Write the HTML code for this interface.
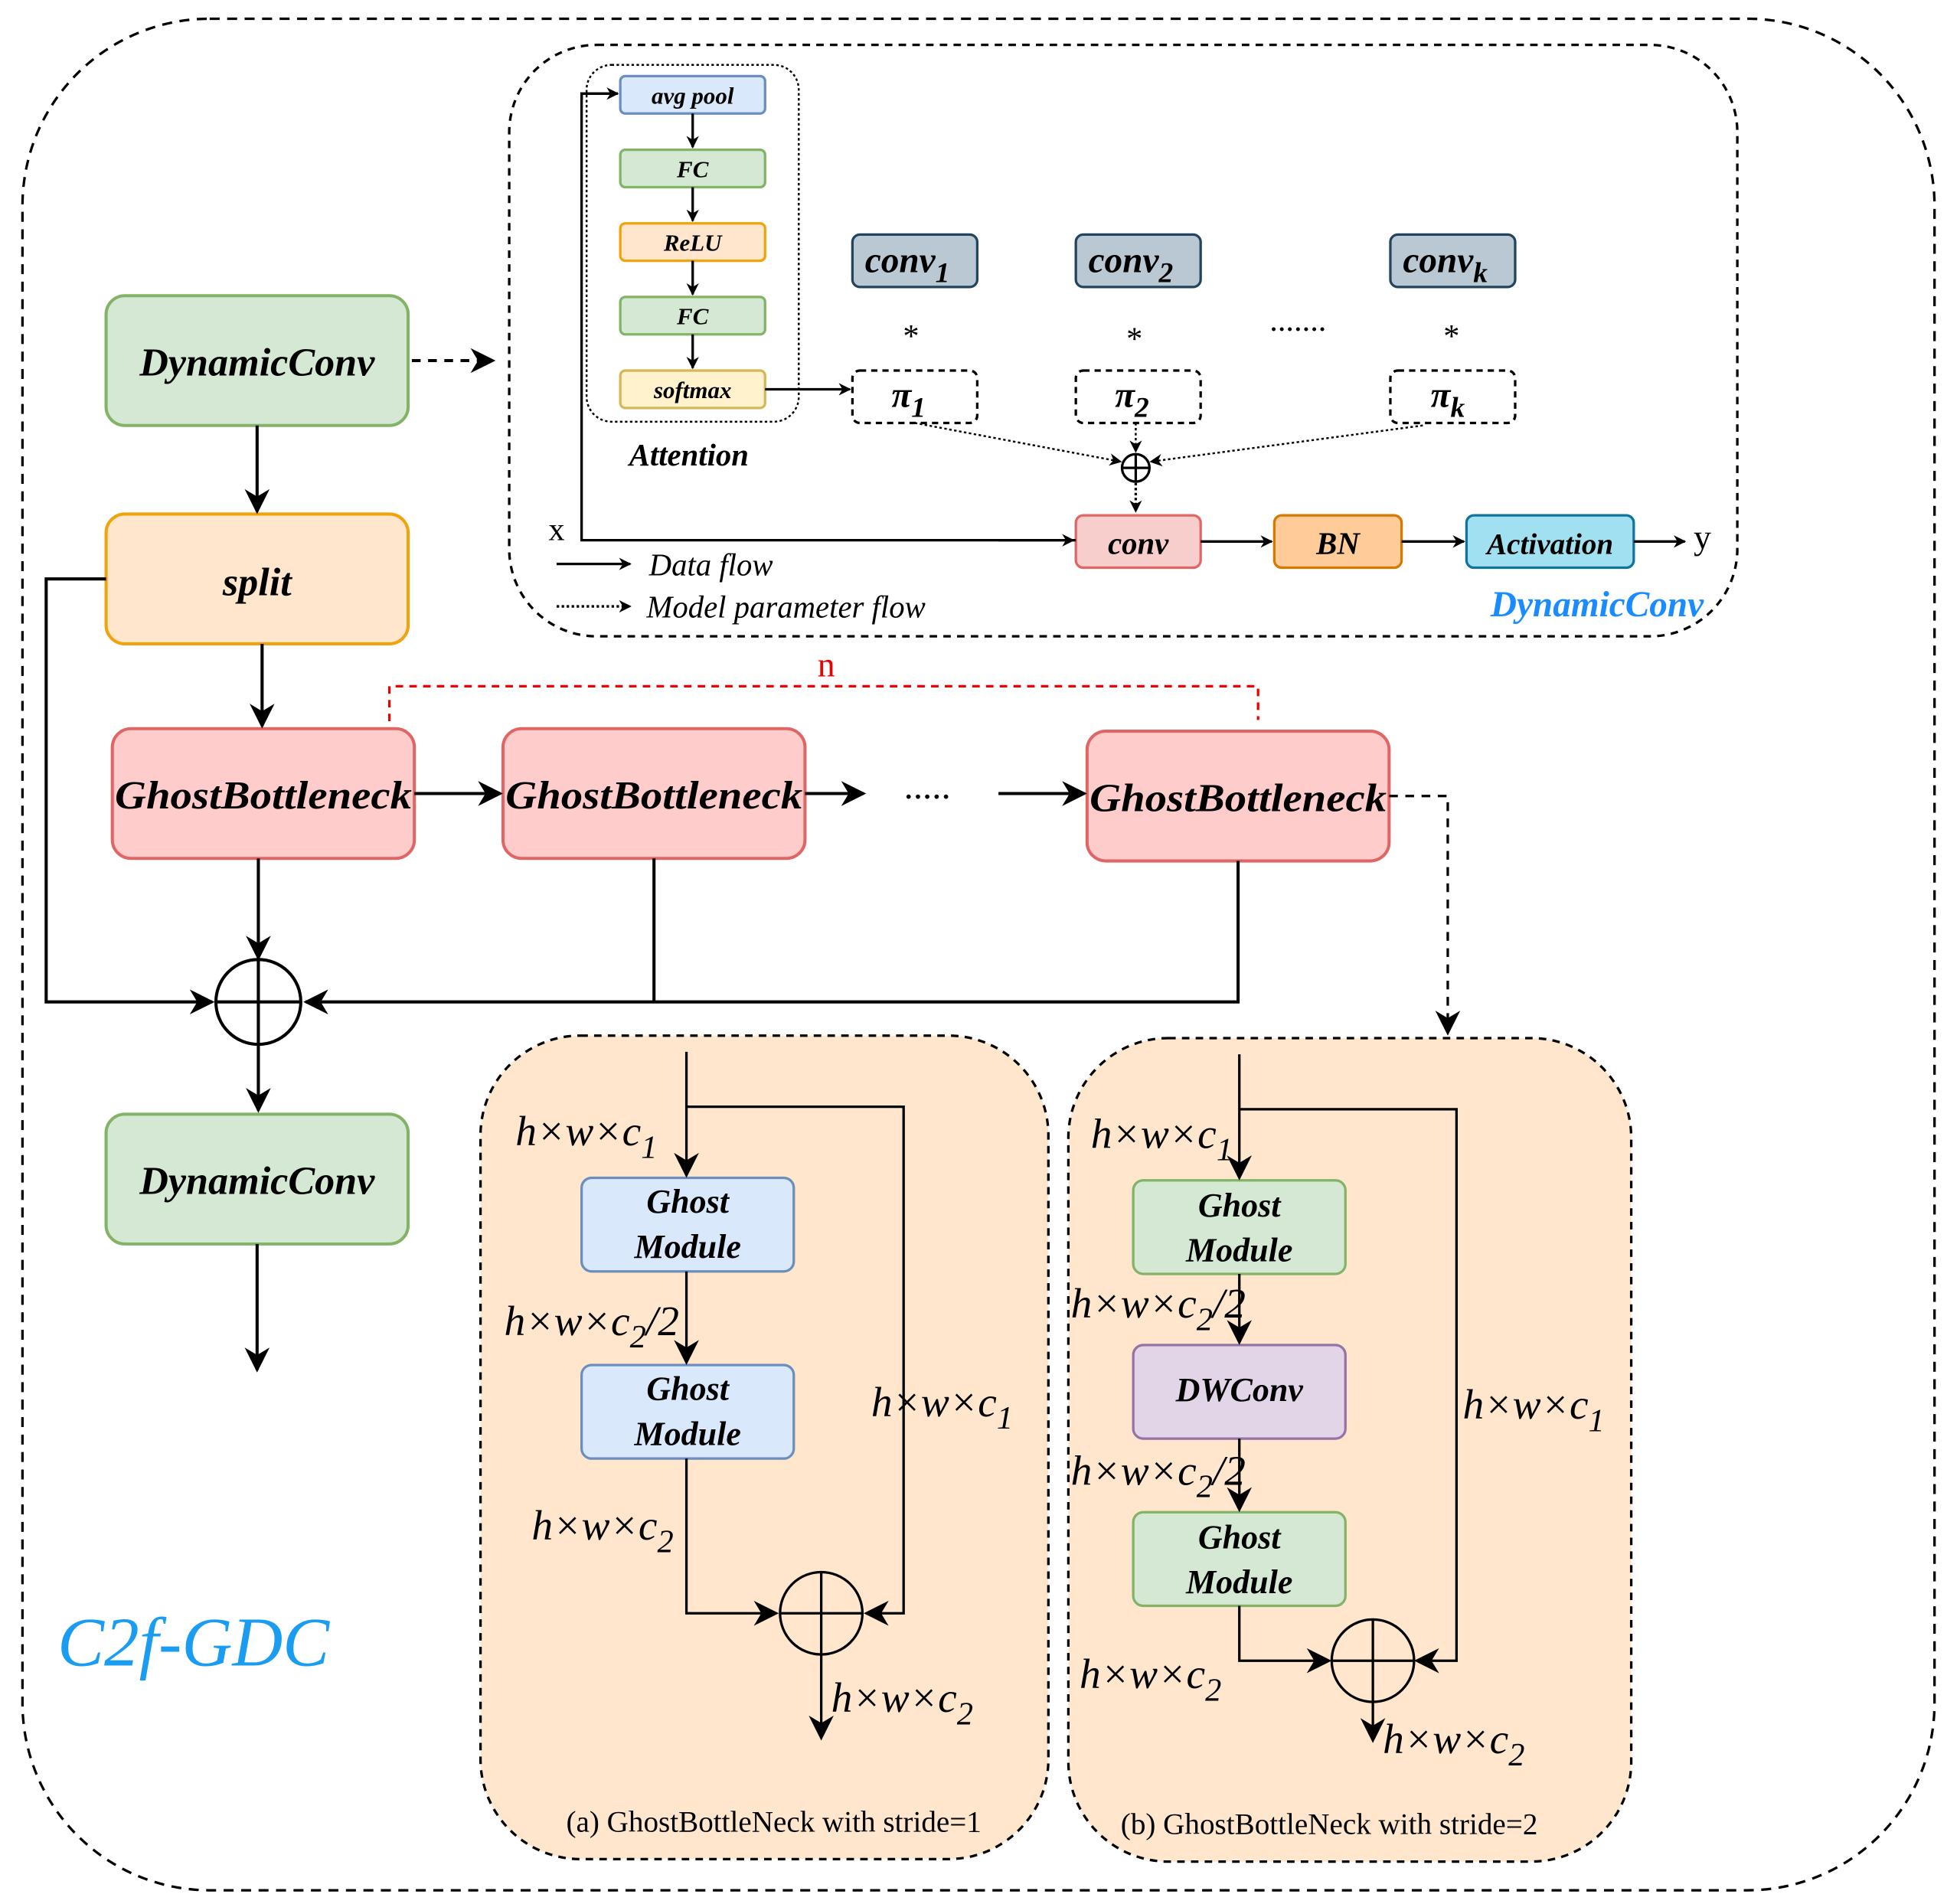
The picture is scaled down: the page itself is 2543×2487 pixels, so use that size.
<!DOCTYPE html>
<html><head><meta charset="utf-8"><style>
html,body{margin:0;padding:0;background:#fff}
svg{display:block}
text{font-family:"Liberation Serif","Times New Roman",serif}
.b{font-weight:bold;font-style:italic}
.lab{font-style:italic;font-size:34px}
</style></head><body>
<svg width="2543" height="2487" viewBox="0 0 1560 1526" preserveAspectRatio="none" xmlns="http://www.w3.org/2000/svg">
<defs>
<marker id="a" viewBox="0 0 10 10" refX="9" refY="5" markerWidth="10" markerHeight="10" orient="auto" markerUnits="userSpaceOnUse"><path d="M0,0 L10,5 L0,10 L3,5z" fill="#000"/></marker>
<marker id="A" viewBox="0 0 10 10" refX="9" refY="5" markerWidth="20" markerHeight="20" orient="auto" markerUnits="userSpaceOnUse"><path d="M0,0 L10,5 L0,10 L3,5z" fill="#000"/></marker>
</defs>
<g fill="none" stroke="#000">
<rect x="18" y="15" width="1532" height="1500" rx="150" stroke-width="2" stroke-dasharray="8,6"/>
<rect x="408" y="36" width="984" height="474" rx="70" stroke-width="2" stroke-dasharray="6,5"/>
<rect x="470" y="52" width="170" height="286" rx="20" stroke-width="1.5" stroke-dasharray="2,2"/>
<rect x="385" y="830" width="455" height="660" rx="80" fill="#ffe6cc" stroke-width="2" stroke-dasharray="6,5"/>
<rect x="856" y="832" width="451" height="660" rx="80" fill="#ffe6cc" stroke-width="2" stroke-dasharray="6,5"/>
</g>
<g stroke-width="2">
<rect x="497" y="61" width="116" height="30" rx="4" fill="#dae8fc" stroke="#6c8ebf"/>
<rect x="497" y="120" width="116" height="30" rx="4" fill="#d5e8d4" stroke="#82b366"/>
<rect x="497" y="179" width="116" height="30" rx="4" fill="#ffe6cc" stroke="#f0a30a"/>
<rect x="497" y="238" width="116" height="30" rx="4" fill="#d5e8d4" stroke="#82b366"/>
<rect x="497" y="297" width="116" height="30" rx="4" fill="#fff2cc" stroke="#d6b656"/>
<rect x="683" y="188" width="100" height="42" rx="6" fill="#bac8d3" stroke="#23445d"/>
<rect x="862" y="188" width="100" height="42" rx="6" fill="#bac8d3" stroke="#23445d"/>
<rect x="1114" y="188" width="100" height="42" rx="6" fill="#bac8d3" stroke="#23445d"/>
<rect x="683" y="297" width="100" height="42" rx="6" fill="#fff" stroke="#000" stroke-dasharray="5,4"/>
<rect x="862" y="297" width="100" height="42" rx="6" fill="#fff" stroke="#000" stroke-dasharray="5,4"/>
<rect x="1114" y="297" width="100" height="42" rx="6" fill="#fff" stroke="#000" stroke-dasharray="5,4"/>
<rect x="862" y="413" width="100" height="42" rx="6" fill="#f8cecc" stroke="#e06666"/>
<rect x="1021" y="413" width="102" height="42" rx="6" fill="#ffcc99" stroke="#d77800"/>
<rect x="1175" y="413" width="134" height="42" rx="6" fill="#a0e0f0" stroke="#10739e"/>
</g>
<g class="b" font-size="19" text-anchor="middle">
<text x="555" y="83">avg pool</text><text x="555" y="142">FC</text><text x="555" y="201">ReLU</text><text x="555" y="260">FC</text><text x="555" y="319">softmax</text>
</g>
<g class="b" font-size="29" text-anchor="middle">
<text x="727" y="218">conv<tspan font-size="23" dy="8">1</tspan></text>
<text x="906" y="218">conv<tspan font-size="23" dy="8">2</tspan></text>
<text x="1158" y="218">conv<tspan font-size="23" dy="8">k</tspan></text>
<text x="728" y="326">π<tspan font-size="23" dy="8">1</tspan></text>
<text x="907" y="326">π<tspan font-size="23" dy="8">2</tspan></text>
<text x="1160" y="326">π<tspan font-size="23" dy="8">k</tspan></text>
<text x="912" y="444" font-size="25">conv</text>
<text x="1072" y="444" font-size="25">BN</text>
<text x="1242" y="444" font-size="24">Activation</text>
</g>
<g font-size="26" text-anchor="middle"><text x="730" y="278">*</text><text x="909" y="280">*</text><text x="1163" y="278">*</text><text x="1040" y="265">.......</text></g>
<text x="552" y="373" class="b" font-size="25" text-anchor="middle">Attention</text>
<text x="446" y="433" font-size="26" text-anchor="middle">x</text>
<text x="1364" y="440" font-size="28" text-anchor="middle">y</text>
<text x="520" y="461" font-size="25" font-style="italic">Data flow</text>
<text x="518" y="495" font-size="25" font-style="italic">Model parameter flow</text>
<text x="1365" y="494" class="b" font-size="29" fill="#1a8cff" text-anchor="end">DynamicConv</text>
<g stroke="#000" stroke-width="2" fill="none" marker-end="url(#a)">
<path d="M555,91V118"/><path d="M555,150V177"/><path d="M555,209V236"/><path d="M555,268V295"/>
<path d="M613,312H681"/>
<path d="M862,433H466V75H495" marker-end="none"/>
<path d="M800,433H860"/>
<path d="M466,80V75H495"/>
<path d="M962,434H1019"/><path d="M1123,434H1173"/><path d="M1309,434H1350"/>
<path d="M446,452H505"/>
<path d="M446,486H505" stroke-dasharray="2,2"/>
<path d="M733,339L898,370" stroke-dasharray="2,2" stroke-width="1.5"/>
<path d="M1140,341L922,370" stroke-dasharray="2,2" stroke-width="1.5"/>
<path d="M910,339V362" stroke-dasharray="2,2" stroke-width="1.5"/>
<path d="M910,387V410" stroke-dasharray="2,2"/>
</g>
<g stroke="#000" stroke-width="2" fill="none"><circle cx="910" cy="375" r="11"/><path d="M899,375H921M910,364V386"/></g>
<g stroke-width="2.5">
<rect x="85" y="237" width="242" height="104" rx="15" fill="#d5e8d4" stroke="#82b366"/>
<rect x="85" y="412" width="242" height="104" rx="15" fill="#ffe6cc" stroke="#f0a30a"/>
<rect x="90" y="584" width="242" height="104" rx="15" fill="#ffcccc" stroke="#e06666"/>
<rect x="403" y="584" width="242" height="104" rx="15" fill="#ffcccc" stroke="#e06666"/>
<rect x="871" y="586" width="242" height="104" rx="15" fill="#ffcccc" stroke="#e06666"/>
<rect x="85" y="893" width="242" height="104" rx="15" fill="#d5e8d4" stroke="#82b366"/>
</g>
<g class="b" font-size="32" text-anchor="middle">
<text x="206" y="301">DynamicConv</text>
<text x="206" y="477">split</text>
<text x="211" y="648" textLength="238" lengthAdjust="spacingAndGlyphs">GhostBottleneck</text>
<text x="524" y="648" textLength="238" lengthAdjust="spacingAndGlyphs">GhostBottleneck</text>
<text x="992" y="650" textLength="238" lengthAdjust="spacingAndGlyphs">GhostBottleneck</text>
<text x="206" y="957">DynamicConv</text>
</g>
<text x="743" y="640" font-size="30" text-anchor="middle">.....</text>
<path d="M312,578V550H1008V577" fill="none" stroke="#e00" stroke-width="2" stroke-dasharray="6,5"/>
<text x="662" y="542" font-size="28" fill="#e00" text-anchor="middle">n</text>
<g stroke="#000" stroke-width="2.5" fill="none" marker-end="url(#A)">
<path d="M330,289H395" stroke-dasharray="7,6"/>
<path d="M1113,638H1160V828" stroke-dasharray="7,6" stroke-width="2"/>
<path d="M206,341V410"/><path d="M210,516V582"/><path d="M332,636H401"/><path d="M645,636H692"/><path d="M800,636H869"/><path d="M207,688V768"/><path d="M207,837V890"/><path d="M206,997V1098"/>
<path d="M85,464H37V803H170"/>
<path d="M524,688V803" marker-end="none"/>
<path d="M992,690V803H245"/>
</g>
<g stroke="#000" stroke-width="2.5" fill="none"><circle cx="207" cy="803" r="34"/><path d="M173,803H241M207,769V837"/></g>
<text x="155" y="1335" font-size="56" font-style="italic" fill="#1a9cf0" text-anchor="middle">C2f-GDC</text>
<g stroke-width="2">
<rect x="466" y="944" width="170" height="75" rx="8" fill="#dae8fc" stroke="#6c8ebf"/>
<rect x="466" y="1094" width="170" height="75" rx="8" fill="#dae8fc" stroke="#6c8ebf"/>
<rect x="908" y="946" width="170" height="75" rx="8" fill="#d5e8d4" stroke="#82b366"/>
<rect x="908" y="1078" width="170" height="75" rx="8" fill="#e1d5e7" stroke="#9673a6"/>
<rect x="908" y="1212" width="170" height="75" rx="8" fill="#d5e8d4" stroke="#82b366"/>
</g>
<g class="b" font-size="27" text-anchor="middle">
<text x="551" y="972">Ghost</text><text x="551" y="1008">Module</text>
<text x="551" y="1122">Ghost</text><text x="551" y="1158">Module</text>
<text x="993" y="975">Ghost</text><text x="993" y="1011">Module</text>
<text x="993" y="1123">DWConv</text>
<text x="993" y="1241">Ghost</text><text x="993" y="1277">Module</text>
</g>
<g stroke="#000" stroke-width="2" fill="none" marker-end="url(#A)">
<path d="M550,843V942"/><path d="M550,1019V1092"/><path d="M658,1326V1393"/>
<path d="M993,845V944"/><path d="M993,1021V1076"/><path d="M993,1153V1210"/><path d="M1100,1364V1395"/>
<path d="M550,887H724V1293H694"/><path d="M550,1169V1293H622"/>
<path d="M993,889H1167V1331H1135"/><path d="M993,1287V1331H1065"/>
</g>
<g stroke="#000" stroke-width="2" fill="none">
<circle cx="658" cy="1293" r="33"/><path d="M625,1293H691M658,1260V1326"/>
<circle cx="1100" cy="1331" r="33"/><path d="M1067,1331H1133M1100,1298V1364"/>
</g>
<g class="lab">
<text x="413" y="918">h×w×c<tspan font-size="26" dy="10">1</tspan></text>
<text x="404" y="1070">h×w×c<tspan font-size="26" dy="10">2</tspan><tspan dy="-10">/2</tspan></text>
<text x="426" y="1234">h×w×c<tspan font-size="26" dy="10">2</tspan></text>
<text x="698" y="1135">h×w×c<tspan font-size="26" dy="10">1</tspan></text>
<text x="666" y="1372">h×w×c<tspan font-size="26" dy="10">2</tspan></text>
<text x="874" y="920">h×w×c<tspan font-size="26" dy="10">1</tspan></text>
<text x="858" y="1056">h×w×c<tspan font-size="26" dy="10">2</tspan><tspan dy="-10">/2</tspan></text>
<text x="858" y="1190">h×w×c<tspan font-size="26" dy="10">2</tspan><tspan dy="-10">/2</tspan></text>
<text x="865" y="1353">h×w×c<tspan font-size="26" dy="10">2</tspan></text>
<text x="1172" y="1137">h×w×c<tspan font-size="26" dy="10">1</tspan></text>
<text x="1108" y="1405">h×w×c<tspan font-size="26" dy="10">2</tspan></text>
</g>
<text x="620" y="1468" font-size="24" text-anchor="middle">(a) GhostBottleNeck with stride=1</text>
<text x="1065" y="1470" font-size="24" text-anchor="middle">(b) GhostBottleNeck with stride=2</text>
</svg>
</body></html>
